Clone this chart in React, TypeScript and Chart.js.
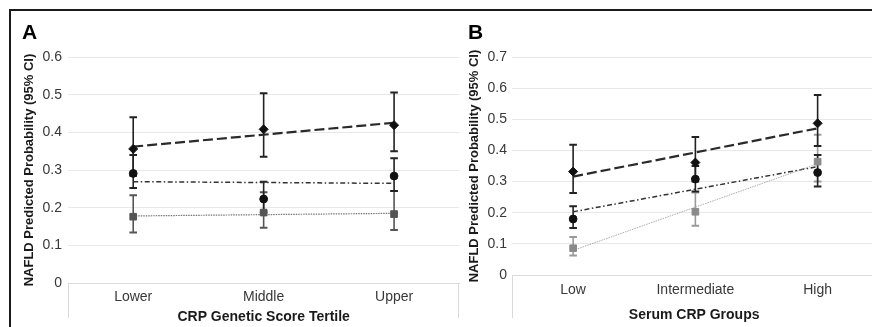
import React, { useEffect, useRef } from 'react';
import { Chart, registerables } from 'chart.js';

Chart.register(...registerables);

const FONT = "'Liberation Sans', Arial, Helvetica, sans-serif";

// ---------- Panel A ----------
const catsA = ['Lower', 'Middle', 'Upper'];
const yTicksA = [0, 0.1, 0.2, 0.3, 0.4, 0.5, 0.6];
const a1Val = [0.356, 0.408, 0.419];
const a1Low = [0.285, 0.335, 0.35];
const a1High = [0.44, 0.504, 0.506];
const a2Val = [0.291, 0.223, 0.284];
const a2Low = [0.252, 0.188, 0.244];
const a2High = [0.34, 0.269, 0.331];
const a3Val = [0.176, 0.187, 0.183];
const a3Low = [0.134, 0.147, 0.141];
const a3High = [0.233, 0.241, 0.244];
const a1Trend = [0.362, 0.4255];
const a2Trend = [0.269, 0.2645];
const a3Trend = [0.178, 0.185];

// ---------- Panel B ----------
const catsB = ['Low', 'Intermediate', 'High'];
const yTicksB = [0, 0.1, 0.2, 0.3, 0.4, 0.5, 0.6, 0.7];
const b1Val = [0.332, 0.361, 0.487];
const b1Low = [0.263, 0.3, 0.414];
const b1High = [0.418, 0.443, 0.578];
const b2Val = [0.18, 0.308, 0.329];
const b2Low = [0.151, 0.268, 0.284];
const b2High = [0.221, 0.35, 0.385];
const b3Val = [0.086, 0.203, 0.364];
const b3Low = [0.063, 0.158, 0.3];
const b3High = [0.122, 0.265, 0.45];
const b1Trend = [0.316, 0.471];
const b2Trend = [0.203, 0.348];
const b3Trend = [0.079, 0.357];

const xTitleA = 'CRP Genetic Score Tertile';
const xTitleB = 'Serum CRP Groups';
const yTitle = 'NAFLD Predicted Probability (95% CI)';

type Series = {
  val: number[];
  low: number[];
  high: number[];
  trend: number[];
  marker: string;
  radius: number;
  color: string;
  barColor: string;
  lineColor: string;
  lineWidth: number;
  dash: number[];
};

type Spec = {
  letter: string;
  letterX: number;
  cats: string[];
  yTicks: number[];
  xTitle: string;
  series: Series[];
  xMax: number;
  padLeft: number;
  padRight: number;
  padTop: number;
  yWidth: number;
  xHeight: number;
  xTickPad: number;
  xTitlePad: number;
  yTickPad: number;
  yTitlePad: number;
  boxDepth: number;
};

const dashStyle = [10, 4];
const dashDotStyle = [5, 2.5, 1.5, 2.5];
const dotStyle = [1.5, 1];

const specA: Spec = {
  letter: 'A',
  letterX: 22,
  cats: catsA,
  yTicks: yTicksA,
  xTitle: xTitleA,
  series: [
    { val: a3Val, low: a3Low, high: a3High, trend: a3Trend, marker: 'rect', radius: 4.7, color: '#555555', barColor: '#555555', lineColor: '#777777', lineWidth: 1.2, dash: dotStyle },
    { val: a2Val, low: a2Low, high: a2High, trend: a2Trend, marker: 'circle', radius: 3.9, color: '#111111', barColor: '#222222', lineColor: '#333333', lineWidth: 1.5, dash: dashDotStyle },
    { val: a1Val, low: a1Low, high: a1High, trend: a1Trend, marker: 'rectRot', radius: 4.5, color: '#111111', barColor: '#222222', lineColor: '#2a2a2a', lineWidth: 2.2, dash: dashStyle },
  ],
  xMax: 2.5,
  padLeft: 0,
  padRight: 0,
  padTop: 57,
  yWidth: 68,
  xHeight: 44,
  xTickPad: 6,
  xTitlePad: 1,
  yTickPad: 6,
  yTitlePad: 22,
  boxDepth: 35,
};

const specB: Spec = {
  letter: 'B',
  letterX: 6,
  cats: catsB,
  yTicks: yTicksB,
  xTitle: xTitleB,
  series: [
    { val: b3Val, low: b3Low, high: b3High, trend: b3Trend, marker: 'rect', radius: 4.7, color: '#8a8a8a', barColor: '#9a9a9a', lineColor: '#aaaaaa', lineWidth: 1, dash: dotStyle },
    { val: b2Val, low: b2Low, high: b2High, trend: b2Trend, marker: 'circle', radius: 3.9, color: '#111111', barColor: '#222222', lineColor: '#333333', lineWidth: 1.5, dash: dashDotStyle },
    { val: b1Val, low: b1Low, high: b1High, trend: b1Trend, marker: 'rectRot', radius: 4.5, color: '#111111', barColor: '#222222', lineColor: '#2a2a2a', lineWidth: 2.2, dash: dashStyle },
  ],
  xMax: 2.48,
  padLeft: 0,
  padRight: 0,
  padTop: 57,
  yWidth: 50,
  xHeight: 52,
  xTickPad: 7,
  xTitlePad: 3,
  yTickPad: 5,
  yTitlePad: 5,
  boxDepth: 43,
};

function buildConfig(p: Spec): any {
  const datasets: any[] = [];
  p.series.forEach((s) => {
    datasets.push({
      data: s.val.map((v, i) => ({ x: i, y: v })),
      showLine: false,
      pointStyle: s.marker,
      pointRadius: s.radius,
      pointBackgroundColor: s.color,
      pointBorderColor: s.color,
      pointBorderWidth: 1,
      order: 1,
    });
    datasets.push({
      data: [
        { x: 0, y: s.trend[0] },
        { x: p.cats.length - 1, y: s.trend[1] },
      ],
      borderColor: s.lineColor,
      borderWidth: s.lineWidth,
      borderDash: s.dash,
      pointRadius: 0,
      fill: false,
      tension: 0,
      order: 2,
    });
  });

  const decor = {
    id: 'decor' + p.letter,
    beforeDatasetsDraw(chart: any) {
      const { ctx } = chart;
      const xs = chart.scales.x;
      const ys = chart.scales.y;
      p.series.forEach((s) => {
        ctx.save();
        ctx.strokeStyle = s.barColor;
        s.low.forEach((lo, i) => {
          const x = xs.getPixelForValue(i);
          const y1 = ys.getPixelForValue(lo);
          const y2 = ys.getPixelForValue(s.high[i]);
          ctx.lineWidth = 1.6;
          ctx.beginPath();
          ctx.moveTo(x, y1);
          ctx.lineTo(x, y2);
          ctx.stroke();
          ctx.lineWidth = 2;
          ctx.beginPath();
          ctx.moveTo(x - 3.8, y1);
          ctx.lineTo(x + 3.8, y1);
          ctx.moveTo(x - 3.8, y2);
          ctx.lineTo(x + 3.8, y2);
          ctx.stroke();
        });
        ctx.restore();
      });
    },
    afterDraw(chart: any) {
      const { ctx, chartArea } = chart;
      ctx.save();
      ctx.strokeStyle = '#d9d9d9';
      ctx.lineWidth = 1;
      ctx.beginPath();
      ctx.moveTo(Math.round(chartArea.left) + 0.5, chartArea.bottom);
      ctx.lineTo(Math.round(chartArea.left) + 0.5, chartArea.bottom + p.boxDepth);
      ctx.moveTo(Math.round(chartArea.right) - 0.5, chartArea.bottom);
      ctx.lineTo(Math.round(chartArea.right) - 0.5, chartArea.bottom + p.boxDepth);
      ctx.stroke();
      ctx.fillStyle = '#000000';
      ctx.font = 'bold 21px ' + FONT;
      ctx.textBaseline = 'alphabetic';
      ctx.textAlign = 'left';
      ctx.fillText(p.letter, p.letterX, 38.5);
      ctx.restore();
    },
  };

  return {
    type: 'line',
    data: { datasets },
    plugins: [decor],
    options: {
      animation: false,
      responsive: false,
      maintainAspectRatio: false,
      devicePixelRatio: 1,
      layout: { padding: { left: p.padLeft, right: p.padRight, top: p.padTop, bottom: 0 } },
      plugins: {
        legend: { display: false },
        tooltip: { enabled: false },
        title: { display: false },
      },
      scales: {
        x: {
          type: 'linear',
          min: -0.5,
          max: p.xMax,
          afterBuildTicks: (s: any) => {
            s.ticks = p.cats.map((_, i) => ({ value: i }));
          },
          afterFit: (s: any) => {
            s.height = p.xHeight;
            s.paddingLeft = 0;
            s.paddingRight = 0;
          },
          grid: { display: false, drawTicks: false },
          border: { display: true, color: '#d9d9d9', width: 1 },
          ticks: {
            autoSkip: false,
            maxRotation: 0,
            padding: p.xTickPad,
            color: '#383838',
            font: { family: FONT, size: 14 },
            callback: (v: any) => p.cats[Math.round(Number(v))] ?? '',
          },
          title: {
            display: true,
            text: p.xTitle,
            color: '#1a1a1a',
            font: { family: FONT, size: 14, weight: 'bold' },
            padding: { top: 0, bottom: p.xTitlePad },
          },
        },
        y: {
          type: 'linear',
          min: 0,
          max: p.yTicks[p.yTicks.length - 1],
          afterBuildTicks: (s: any) => {
            s.ticks = p.yTicks.map((v) => ({ value: v }));
          },
          afterFit: (s: any) => {
            s.width = p.yWidth;
          },
          grid: { color: '#e8e8e8', drawTicks: false, lineWidth: 1 },
          border: { display: false },
          ticks: {
            padding: p.yTickPad,
            color: '#383838',
            font: { family: FONT, size: 14 },
            callback: (v: any) => (Number(v) === 0 ? '0' : Number(v).toFixed(1)),
          },
          title: {
            display: true,
            text: yTitle,
            color: '#1a1a1a',
            font: { family: FONT, size: 13, weight: 'bold' },
            padding: { top: p.yTitlePad, bottom: 0 },
          },
        },
      },
    },
  };
}

function Panel({ spec, left, width }: { spec: Spec; left: number; width: number }) {
  const ref = useRef<HTMLCanvasElement | null>(null);
  useEffect(() => {
    if (!ref.current) return;
    const chart = new Chart(ref.current, buildConfig(spec));
    return () => chart.destroy();
  }, [spec]);
  return (
    <canvas
      ref={ref}
      width={width}
      height={327}
      style={{ position: 'absolute', left, top: 0, width, height: 327 }}
    />
  );
}

export default function App() {
  return (
    <div
      style={{
        position: 'fixed',
        left: 0,
        top: 0,
        width: 872,
        height: 327,
        overflow: 'hidden',
        background: '#ffffff',
      }}
    >
      <Panel spec={specA} left={0} width={465} />
      <Panel spec={specB} left={462} width={420} />
      <div
        style={{
          position: 'absolute',
          left: 9,
          top: 9,
          width: 900,
          height: 400,
          borderTop: '2px solid #1a1a1a',
          borderLeft: '2px solid #1a1a1a',
          pointerEvents: 'none',
        }}
      />
    </div>
  );
}
